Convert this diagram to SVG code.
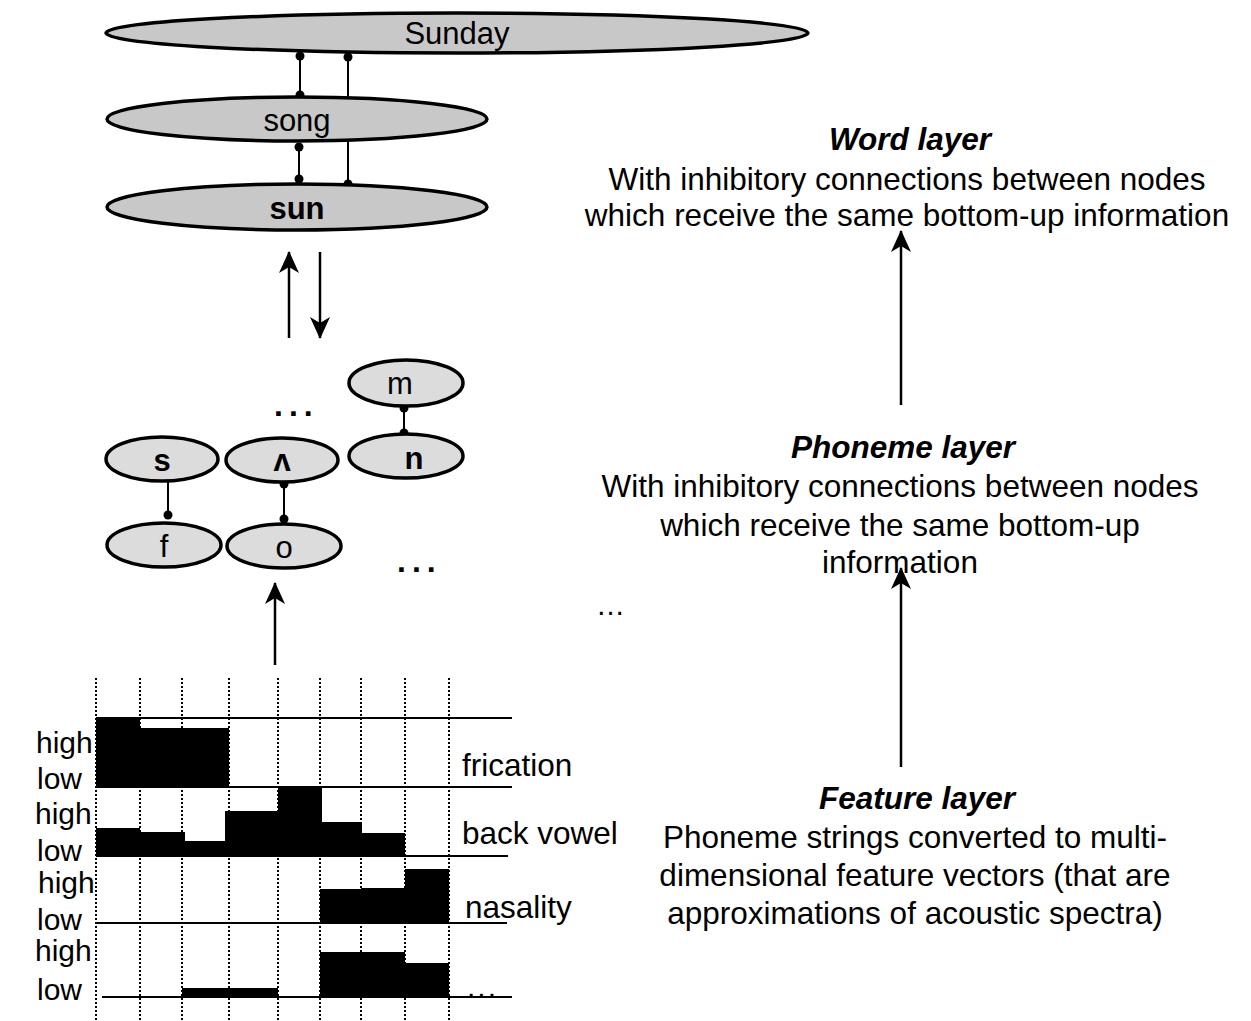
<svg xmlns="http://www.w3.org/2000/svg" width="1251" height="1021" viewBox="0 0 1251 1021">
<defs>
<marker id="ah" viewBox="0 0 22 20" refX="21" refY="10" markerWidth="22" markerHeight="20" markerUnits="userSpaceOnUse" orient="auto">
<path d="M0,0 L22,10 L0,20 L6,10 z" fill="#000"/>
</marker>
<style>
text{font-family:"Liberation Sans",Arial,sans-serif;fill:#000}
.wn{fill:#c8c8c8;stroke:#000;stroke-width:3.5}
.pn{fill:#dcdcdc;stroke:#000;stroke-width:3.5}
.lbl{font-size:31px;text-anchor:middle;dominant-baseline:central}
.b{font-weight:bold}
.con{stroke:#000;stroke-width:2;fill:none}
.arr{stroke:#000;stroke-width:2.5;fill:none}
.dot{fill:#000}
.grid{stroke:#000;stroke-width:2;stroke-dasharray:2 2;fill:none}
.hl{stroke:#000;stroke-width:2;fill:none}
.bar{fill:#000}
.ft{font-size:30px}
.fr{font-size:31.5px}
.dots{font-size:32px;font-weight:bold;letter-spacing:6px}
.rt{font-size:31.5px;text-anchor:middle}
.hd{font-weight:bold;font-style:italic}
</style>
</defs>

<g id="connectors">
<line class="con" x1="300" y1="55" x2="300" y2="96"/>
<circle class="dot" cx="300" cy="56" r="4.5"/><circle class="dot" cx="300" cy="95" r="4.5"/>
<line class="con" x1="348" y1="56" x2="348" y2="184"/>
<circle class="dot" cx="348" cy="57" r="4.5"/><circle class="dot" cx="348" cy="184" r="4.5"/>
<line class="con" x1="299" y1="147" x2="299" y2="179"/>
<circle class="dot" cx="299" cy="147" r="4.5"/><circle class="dot" cx="299" cy="179" r="4.5"/>
<line class="arr" x1="289" y1="338" x2="289" y2="252" marker-end="url(#ah)"/>
<line class="arr" x1="320" y1="252" x2="320" y2="338" marker-end="url(#ah)"/>
<line class="con" x1="168" y1="478" x2="168" y2="515"/>
<circle class="dot" cx="168" cy="478" r="4.5"/><circle class="dot" cx="168" cy="515" r="4.5"/>
<line class="con" x1="284" y1="484" x2="284" y2="519"/>
<circle class="dot" cx="284" cy="484" r="4.5"/><circle class="dot" cx="284" cy="519" r="4.5"/>
<line class="con" x1="404" y1="408" x2="404" y2="433"/>
<circle class="dot" cx="404" cy="408" r="4.5"/><circle class="dot" cx="404" cy="433" r="4.5"/>
<line class="arr" x1="275" y1="665" x2="275" y2="583" marker-end="url(#ah)"/>
<line class="arr" x1="901" y1="405" x2="901" y2="231" marker-end="url(#ah)"/>
<line class="arr" x1="901" y1="767" x2="901" y2="568" marker-end="url(#ah)"/>
</g>

<g id="word-sunday"><ellipse class="wn" cx="457" cy="33" rx="351" ry="20"/><text class="lbl" x="457" y="33">Sunday</text></g>
<g id="word-song"><ellipse class="wn" cx="297" cy="119" rx="190" ry="22"/><text class="lbl" x="297" y="120">song</text></g>
<g id="word-sun"><ellipse class="wn" cx="297" cy="207" rx="190" ry="23"/><text class="lbl b" x="297" y="208">sun</text></g>

<g id="ph-m"><ellipse class="pn" cx="406" cy="383" rx="57" ry="23"/><text class="lbl" x="400" y="383">m</text></g>
<g id="ph-n"><ellipse class="pn" cx="406" cy="456" rx="57" ry="22"/><text class="lbl b" x="414" y="458">n</text></g>
<g id="ph-s"><ellipse class="pn" cx="162" cy="459" rx="56" ry="22"/><text class="lbl b" x="162" y="460">s</text></g>
<g id="ph-v"><ellipse class="pn" cx="282" cy="460" rx="56" ry="22"/><text class="lbl b" x="282" y="460">ʌ</text></g>
<g id="ph-f"><ellipse class="pn" cx="164" cy="545" rx="57" ry="22"/><text class="lbl" x="164" y="546">f</text></g>
<g id="ph-o"><ellipse class="pn" cx="284" cy="546" rx="57" ry="22"/><text class="lbl" x="284" y="547">o</text></g>
<text class="dots" x="274" y="416">...</text>
<text class="dots" x="397" y="572">...</text>

<g id="feature-chart">
<g class="grid">
<line x1="96" y1="678" x2="96" y2="1021"/><line x1="140" y1="678" x2="140" y2="1021"/>
<line x1="182" y1="678" x2="182" y2="1021"/><line x1="229" y1="678" x2="229" y2="1021"/>
<line x1="278" y1="678" x2="278" y2="1021"/><line x1="320" y1="678" x2="320" y2="1021"/>
<line x1="361" y1="678" x2="361" y2="1021"/><line x1="405" y1="678" x2="405" y2="1021"/>
<line x1="449" y1="678" x2="449" y2="1021"/>
</g>
<g class="hl">
<line x1="96" y1="718" x2="512" y2="718"/>
<line x1="96" y1="787" x2="512" y2="787"/>
<line x1="96" y1="856" x2="508" y2="856"/>
<line x1="96" y1="923" x2="507" y2="923"/>
<line x1="102" y1="997" x2="512" y2="997"/>
</g>
<g class="bar">
<rect x="96" y="718" width="44" height="69"/>
<rect x="140" y="728" width="89" height="59"/>
<rect x="96" y="828" width="44" height="28"/>
<rect x="140" y="832" width="45" height="24"/>
<rect x="185" y="841" width="40" height="15"/>
<rect x="225" y="811" width="53" height="45"/>
<rect x="278" y="787" width="44" height="69"/>
<rect x="322" y="822" width="40" height="34"/>
<rect x="362" y="833" width="43" height="23"/>
<rect x="320" y="889" width="41" height="34"/>
<rect x="361" y="888" width="44" height="35"/>
<rect x="405" y="869" width="44" height="54"/>
<rect x="182" y="988" width="96" height="9"/>
<rect x="320" y="952" width="85" height="45"/>
<rect x="405" y="963" width="44" height="34"/>
</g>
<text class="ft" x="36" y="753">high</text>
<text class="ft" x="37" y="789">low</text>
<text class="ft" x="35" y="824">high</text>
<text class="ft" x="37" y="861">low</text>
<text class="ft" x="38" y="893">high</text>
<text class="ft" x="37" y="930">low</text>
<text class="ft" x="35" y="961">high</text>
<text class="ft" x="37" y="1000">low</text>
<text class="fr" x="462" y="776">frication</text>
<text class="fr" x="462" y="844">back vowel</text>
<text class="fr" x="465" y="918">nasality</text>
<text class="ft" x="467" y="997" style="letter-spacing:2px">...</text>
</g>

<g id="word-layer-label">
<text class="rt hd" x="910" y="150">Word layer</text>
<text class="rt" x="907" y="190">With inhibitory connections between nodes</text>
<text class="rt" x="907" y="226">which receive the same bottom-up information</text>
</g>
<g id="phoneme-layer-label">
<text class="rt hd" x="903" y="458">Phoneme layer</text>
<text class="rt" x="900" y="497">With inhibitory connections between nodes</text>
<text class="rt" x="900" y="536">which receive the same bottom-up</text>
<text class="rt" x="900" y="573">information</text>
</g>
<text x="596" y="615" style="font-size:29px">…</text>
<g id="feature-layer-label">
<text class="rt hd" x="917" y="809">Feature layer</text>
<text class="rt" x="915" y="848">Phoneme strings converted to multi-</text>
<text class="rt" x="915" y="886">dimensional feature vectors (that are</text>
<text class="rt" x="915" y="924">approximations of acoustic spectra)</text>
</g>
</svg>
